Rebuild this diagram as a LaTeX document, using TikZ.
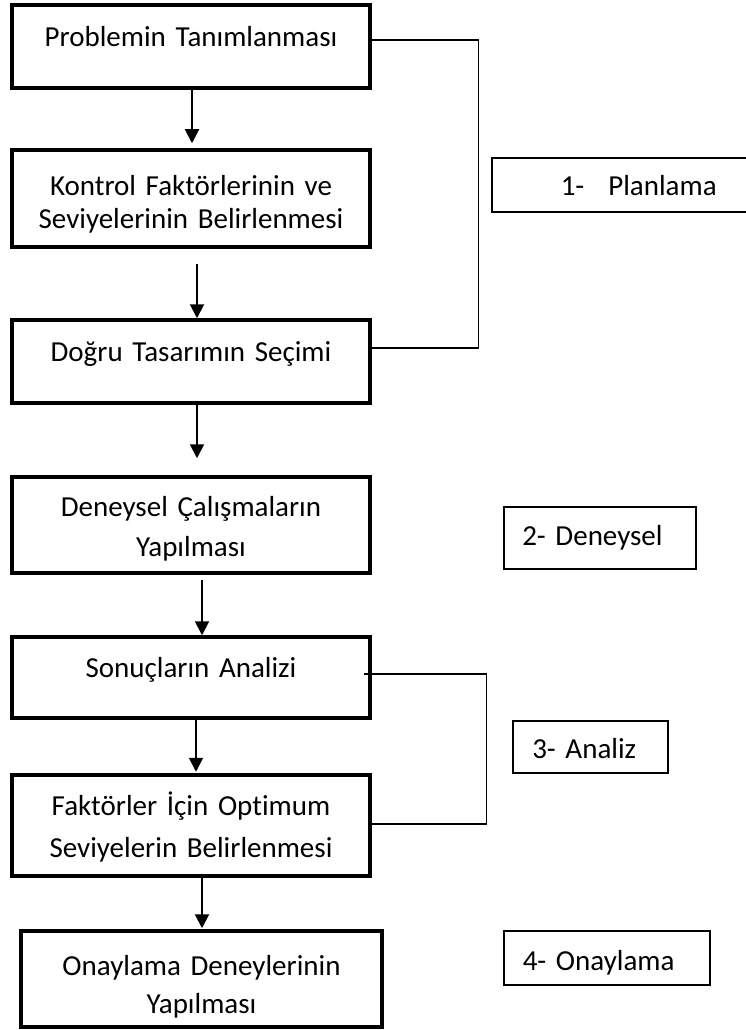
\documentclass[tikz,border=0pt]{standalone}
\usepackage{fontspec}
\setmainfont{Carlito}[Ligatures=NoCommon]
\usetikzlibrary{arrows.meta}

\begin{document}
\begin{tikzpicture}[x=1pt,y=-1pt]
        \tikzset{
            style box/.style={draw,line width=3.5pt,inner xsep=9pt,inner ysep=0pt,text width=340pt,
                minimum width=358pt,align=center,text height=20pt,font=\fontsize{29}{33}\selectfont},
            style phase/.style={draw,line width=1.5pt,anchor=west,inner sep=0pt,align=left,
                font=\fontsize{29}{33}\selectfont},
            style flow/.style={line width=2pt,-{Triangle[width=14pt,length=14pt]}},
            style link/.style={line width=1.3pt}
        };
        \useasboundingbox (0,0) rectangle (745,1030);

        \node[style box,text depth=19pt,minimum height=83pt] (b1) at (191,46.5) {Problemin Tanımlanması};
        \node[style box,text depth=25.6pt,minimum height=97pt] (b2) at (191,198.5) {Kontrol Faktörlerinin ve\\Seviyelerinin Belirlenmesi};
        \node[style box,text depth=21pt,minimum height=83pt] (b3) at (191,361.5) {Doğru Tasarımın Seçimi};
        \node[style box,text depth=38pt,minimum height=96pt] (b4) at (191,525) {Deneysel Çalışmaların\\[7pt]Yapılması};
        \node[style box,text depth=21pt,minimum height=81pt] (b5) at (191,677.5) {Sonuçların Analizi};
        \node[style box,text depth=41pt,minimum height=101pt] (b6) at (191,825.5) {Faktörler İçin Optimum\\[9pt]Seviyelerin Belirlenmesi};
        \node[style box,text depth=28pt,minimum height=96pt,minimum width=361pt,text width=343pt] (b7) at (201.5,979) {Onaylama Deneylerinin\\[5pt]Yapılması};

        \node[style phase,minimum height=54pt,text width=257pt,text height=20pt,text depth=0pt] (p1) at (491,185) {\hspace*{69pt}1-\hspace{24pt}Planlama};
        \node[style phase,minimum height=62pt,text width=192pt,text height=17pt,text depth=3pt] (p2) at (503,538) {\hspace*{18.5pt}2- Deneysel};
        \node[style phase,minimum height=52pt,text width=155pt,text height=22pt,text depth=0pt] (p3) at (512,747) {\hspace*{19.5pt}3- Analiz};
        \node[style phase,minimum height=54pt,text width=206pt,text height=24pt,text depth=0pt] (p4) at (503,958) {\hspace*{19pt}4- Onaylama};

        \draw[style flow,shorten >=5pt] ([xshift=1pt]b1.south) -- ([xshift=1pt]b2.north);
        \draw[style flow,shorten <=15pt] ([xshift=6pt]b2.south) -- ([xshift=6pt]b3.north);
        \draw[style flow,shorten >=17pt] ([xshift=6pt]b3.south) -- ([xshift=6pt]b4.north);
        \draw[style flow,shorten <=5pt] ([xshift=11pt]b4.south) -- ([xshift=11pt]b5.north);
        \draw[style flow,shorten >=1.5pt] ([xshift=5pt]b5.south) -- ([xshift=5pt]b6.north);
        \draw[style flow,shorten >=1pt] ([xshift=11pt]b6.south) -- ([xshift=0.5pt]b7.north);

        \draw[style link] ([yshift=6.5pt]b1.east) -- ++(107,0) |- ([yshift=13.5pt]b3.east);
        \draw[style link] ([xshift=-8pt,yshift=3.5pt]b5.east) -- ++(123,0) |- ([yshift=1.5pt]b6.east);
\end{tikzpicture}
\end{document}
